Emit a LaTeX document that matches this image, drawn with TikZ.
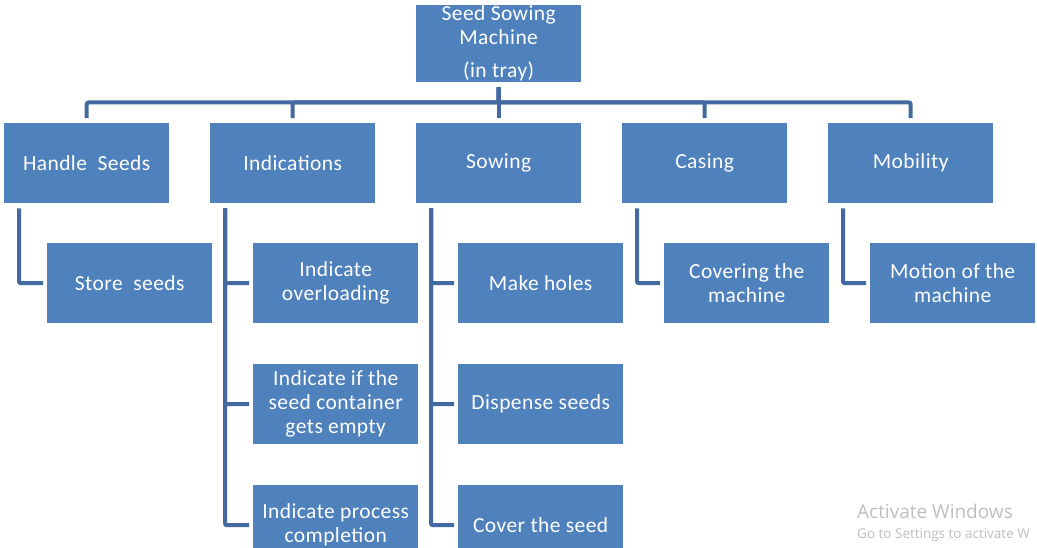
\documentclass[tikz,border=0pt]{standalone}
\usepackage{fontspec}
\setmainfont{Carlito}[LetterSpace=2]
\newfontfamily\wmfont{Open Sans}
\usetikzlibrary{positioning}
\definecolor{boxblue}{RGB}{79,129,189}
\definecolor{lineblue}{RGB}{66,106,160}
\definecolor{wmgray}{RGB}{190,190,190}
\tikzset{
  task/.style={rectangle, fill=boxblue, text=white, minimum width=165pt, minimum height=80pt,
    inner sep=0pt, align=center, font=\fontsize{21.5}{24}\selectfont, anchor=north west},
  link/.style={draw=lineblue, line width=4pt, rounded corners=2pt, shorten <=5pt, shorten >=5pt},
  watermark/.style={text=wmgray, anchor=base west, inner sep=0pt},
}

\begin{document}
\begin{tikzpicture}[x=1pt,y=-1pt]
    \useasboundingbox (0,0) rectangle (1037,547);
    \clip (0,0) rectangle (1037,547);

    % root
    \node[task, minimum height=77pt] (root) at (416,5) {Seed Sowing\\Machine\\[9pt](in tray)};

    % first level
    \foreach \x/\name/\txt in {4/hs/{Handle\ \ Seeds}, 210/ind/Indications, 416/sow/Sowing, 622/cas/Casing, 828/mob/Mobility}
        \node[task] (\name) at (\x,123) {\txt};

    % second level
    \node[task] (store)  at (47,243)  {Store\ \ seeds};
    \node[task] (over)   at (253,243) {Indicate\\overloading};
    \node[task] (empty)  at (253,364) {Indicate if the\\seed container\\gets empty};
    \node[task] (done)   at (253,485) {Indicate process\\completion};
    \node[task] (holes)  at (458,243) {Make holes};
    \node[task] (disp)   at (458,364) {Dispense seeds};
    \node[task] (cover)  at (458,485) {Cover the seed};
    \node[task] (covm)   at (664,243) {Covering the\\machine};
    \node[task] (motion) at (870,243) {Motion of the\\machine};

    % connectors
    \foreach \name in {hs,ind,sow,cas,mob}
        \draw[link] (root.south) -- ++(0,20) -| (\name.north);

    \foreach \up/\kid in {hs/store, ind/over, ind/empty, ind/done, sow/holes, sow/disp, sow/cover, cas/covm, mob/motion}
        \draw[link, shorten >=4pt] ([xshift=15pt]\up.south west) |- (\kid.west);

    % screen watermark
    \node[watermark, font=\wmfont\fontsize{19}{22}\selectfont] (act) at (857,518) {Activate Windows};
    \node[watermark, font=\wmfont\fontsize{13.5}{16}\selectfont] (sett) at (857,538) {Go to Settings to activate W};
\end{tikzpicture}
\end{document}
